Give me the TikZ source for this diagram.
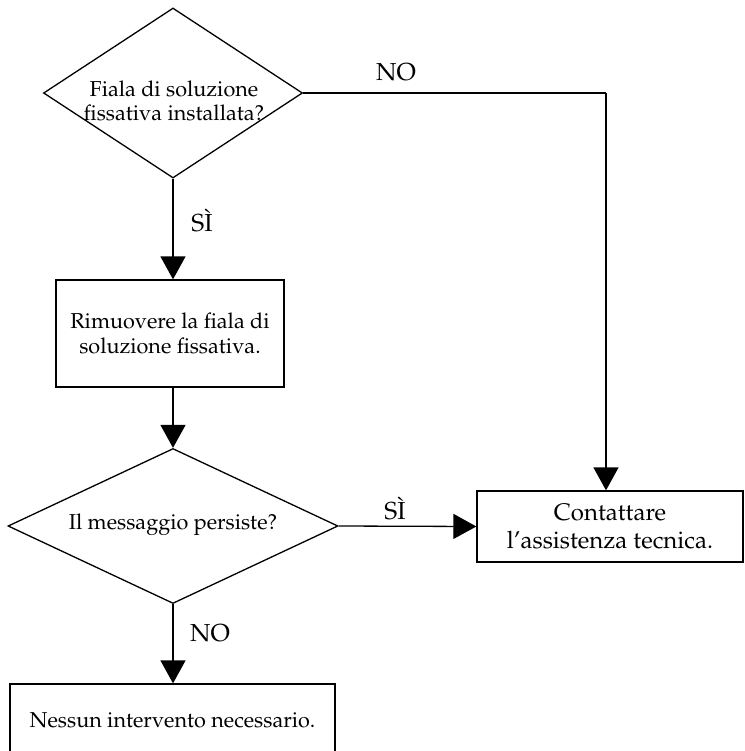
\documentclass[tikz,border=0pt]{standalone}
\usepackage[T1]{fontenc}
\usepackage{mathpazo}
\usetikzlibrary{shapes.geometric,arrows.meta}
\tikzset{
  px/.style={x=0.5pt,y=-0.5pt},
  txt/.style={font=\fontsize{10.8}{12.4}\selectfont},
  decision/.style={diamond,draw,line width=0.65pt,inner sep=0pt},
  box/.style={rectangle,draw,line width=0.65pt,inner sep=0pt,align=center,txt},
  lbl/.style={font=\fontsize{12.3}{14}\selectfont,inner sep=0pt},
  conn/.style={line width=0.65pt,-{Triangle[length=11.5pt,width=12.5pt]}},
  plain/.style={line width=0.65pt}
}
\begin{document}
\begin{tikzpicture}[px]
\useasboundingbox (0,0) rectangle (745,751);
\clip (0,0) rectangle (745,751);
\node[decision,aspect=1.52,minimum width=129.5pt,minimum height=85pt] (d1) at (173,93) {};
\node[txt,align=center,inner sep=0pt] (t1) at (174,101) {Fiala di soluzione\\fissativa installata?};
\node[box,minimum width=114pt,minimum height=53.5pt] (r) at (170,333.5) {Rimuovere la fiala di\\soluzione fissativa.};
\node[decision,aspect=2.13,minimum width=165pt,minimum height=77.5pt] (d2) at (173,526) {};
\node[txt,inner sep=0pt] (t2) at (173,525) {Il messaggio persiste?};
\node[box,minimum width=133pt,minimum height=35.5pt,font=\fontsize{12}{14}\selectfont] (c) at (610,526.5) {Contattare\\l'assistenza tecnica.};
\node[box,minimum width=162.5pt,minimum height=36pt] (n) at (172.5,720) {Nessun intervento necessario.};
\coordinate (k) at (606,93);
\draw[plain] (d1.east) -- (k);
\draw[conn] (k) -- (k |- c.north);
\draw[conn] (d1.south) -- (r.north -| d1.south);
\draw[conn] (r.south -| d2.north) -- (d2.north);
\draw[conn] (d2.east) -- (c.west);
\draw[conn] (d2.south) -- (n.north -| d2.south);
\node[lbl] (l1) at (396,72) {NO};
\node[lbl] (l2) at (202,220) {S\`I};
\node[lbl] (l3) at (395,508) {S\`I};
\node[lbl] (l4) at (210,633) {NO};
\end{tikzpicture}
\end{document}
